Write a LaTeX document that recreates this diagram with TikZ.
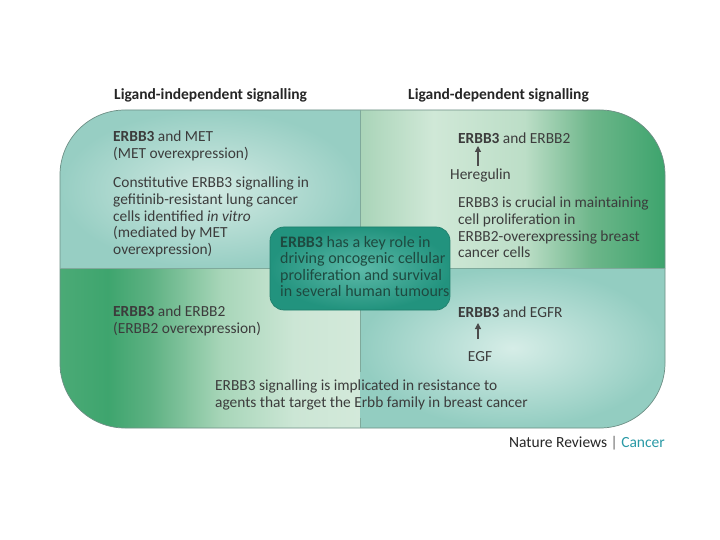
\documentclass[tikz,border=0pt]{standalone}
\usepackage{fontspec}
\setmainfont{Carlito}
\usetikzlibrary{arrows.meta}
\definecolor{txt}{HTML}{3C3C3C}
\definecolor{ctxt}{HTML}{1E4A40}
\definecolor{tlin}{HTML}{D2EAE3}
\definecolor{tlout}{HTML}{97CEC3}
\definecolor{brin}{HTML}{D6EDE7}
\definecolor{brout}{HTML}{93CDC1}
\definecolor{cin}{HTML}{5DBAA9}
\definecolor{cout}{HTML}{22937E}
\definecolor{cline}{HTML}{1F7F6C}
\definecolor{divl}{HTML}{7FA99B}
\definecolor{edge}{HTML}{6E8F85}
\definecolor{cancer}{HTML}{2A9AA6}
\definecolor{trA}{HTML}{A9D4B8}
\definecolor{trB}{HTML}{D0E8D7}
\definecolor{trC}{HTML}{BCDEC7}
\definecolor{trD}{HTML}{6DB68A}
\definecolor{trE}{HTML}{3DA46D}
\definecolor{blA}{HTML}{4BAA76}
\definecolor{blB}{HTML}{3EA56E}
\definecolor{blC}{HTML}{5DB182}
\definecolor{blD}{HTML}{A8D6B9}
\definecolor{blE}{HTML}{CCE6D5}
\definecolor{blF}{HTML}{D3E9DA}
\pgfdeclarehorizontalshading{trshade}{100bp}{color(0bp)=(trA); color(25bp)=(trA); color(37bp)=(trB); color(52bp)=(trC); color(63bp)=(trD); color(75bp)=(trE); color(100bp)=(trE)}
\pgfdeclarehorizontalshading{blshade}{100bp}{color(0bp)=(blA); color(25bp)=(blA); color(33bp)=(blB); color(40bp)=(blC); color(52bp)=(blD); color(64bp)=(blE); color(75bp)=(blF); color(100bp)=(blF)}
\tikzset{
  lbl/.style={inner sep=0pt, text=txt, font=\fontsize{15.4}{16.7}\selectfont, align=left},
  hdr/.style={inner sep=0pt, text=black!85, font=\fontsize{15.5}{17}\selectfont\bfseries},
  ctr/.style={inner sep=0pt, text=ctxt, font=\fontsize{16}{16.4}\selectfont, align=left},
  upar/.style={-{Triangle[length=6pt,width=6pt]}, line width=1.2pt, draw=black!70},
  divider/.style={draw=divl, line width=0.8pt}
}
\begin{document}
\begin{tikzpicture}[x=1pt,y=-1pt]
\useasboundingbox[fill=white] (0,0) rectangle (720,540);
% quadrants
\begin{scope}
\clip[rounded corners=65pt] (60,110) rectangle (665,428);
\shade[inner color=tlin, outer color=tlout] (60,110) rectangle (360,268);
\shade[shading=trshade] (360,110) rectangle (665,268);
\shade[shading=blshade] (60,268) rectangle (360,428);
\shade[inner color=brin, outer color=brout] (360,268) rectangle (665,428);
\end{scope}
\draw[draw=edge, line width=0.7pt, rounded corners=65pt] (60,110) rectangle (665,428);
% dividers
\coordinate (vt) at (360,110);
\coordinate (vm1) at (360,372);
\coordinate (vm2) at (360,418);
\coordinate (vb) at (360,428);
\coordinate (hl) at (60,268);
\coordinate (hr) at (665,268);
\draw[divider] (vt) -- (vm1);
\draw[divider] (vm2) -- (vb);
\draw[divider] (hl) -- (hr);
% centre box
\shade[inner color=cin, outer color=cout, draw=cline, line width=0.7pt, rounded corners=14pt] (270,227) rectangle (450,310);
\node[ctr, anchor=north west] (centre) at (280,236) {\textbf{ERBB3} has a key role in\\driving oncogenic cellular\\proliferation and survival\\in several human tumours};
% headers
\node[hdr, anchor=west] (h1) at (114,95) {Ligand-independent signalling};
\node[hdr, anchor=west] (h2) at (408,95) {Ligand-dependent signalling};
% top left
\node[lbl, anchor=north west] (tl1) at (113,131) {\textbf{ERBB3} and MET\\(MET overexpression)};
\node[lbl, anchor=north west] (tl2) at (113,177) {Constitutive ERBB3 signalling in\\gefitinib-resistant lung cancer\\cells identified \textit{in vitro}\\(mediated by MET\\overexpression)};
% top right
\node[lbl, anchor=west] (tr1) at (458,138) {\textbf{ERBB3} and ERBB2};
\node[lbl, anchor=west] (her) at (450,175) {Heregulin};
\draw[upar] (478,166) -- (478,146);
\node[lbl, anchor=north west] (tr2) at (458,197) {ERBB3 is crucial in maintaining\\cell proliferation in\\ERBB2-overexpressing breast\\cancer cells};
% bottom left
\node[lbl, anchor=north west] (bl1) at (113,306) {\textbf{ERBB3} and ERBB2\\(ERBB2 overexpression)};
% bottom right
\node[lbl, anchor=west] (br1) at (458,312) {\textbf{ERBB3} and EGFR};
\node[lbl, anchor=center] (egf) at (480,357) {EGF};
\draw[upar] (478,339) -- (478,323);
% bottom text
\node[lbl, anchor=north west] (bot) at (215,380) {ERBB3 signalling is implicated in resistance to\\agents that target the Erbb family in breast cancer};
% credit
\node[inner sep=0pt, anchor=east, font=\fontsize{15.5}{17}\selectfont] (credit) at (665,443) {\textcolor{black!85}{Nature Reviews} \textcolor{black!60}{|} \textcolor{cancer}{Cancer}};
\end{tikzpicture}
\end{document}
